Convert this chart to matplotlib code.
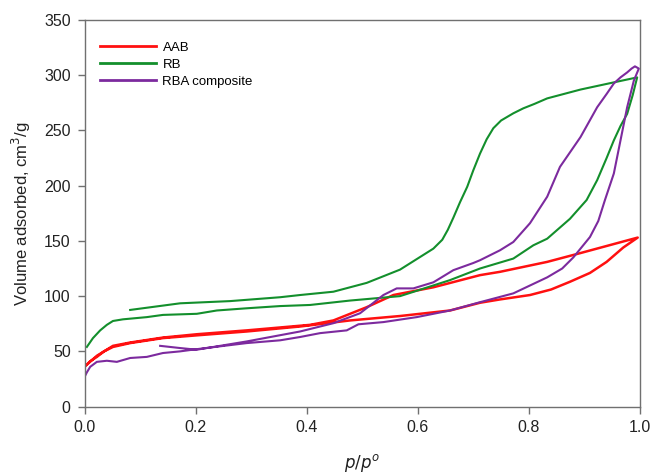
import matplotlib
matplotlib.use("Agg")
import matplotlib.pyplot as plt

plt.rcParams['font.family'] = ['Liberation Sans', 'DejaVu Sans']

# AAB: adsorption branch (0 -> 1) followed by desorption branch (1 -> 0)
aab_x = [0.0, 0.01, 0.022, 0.035, 0.051, 0.082, 0.141, 0.202, 0.292, 0.388, 0.478, 0.568, 0.658,
         0.712, 0.748, 0.802, 0.84, 0.874, 0.91, 0.94, 0.97, 0.996,
         0.893, 0.833, 0.748, 0.712, 0.628, 0.556, 0.508, 0.448, 0.406, 0.292, 0.202,
         0.141, 0.082, 0.051, 0.022, 0.004]
aab_y = [36, 41, 45, 50, 54, 57.5, 62, 64.5, 68, 72.5, 78, 82, 87,
         94, 97, 101, 106, 113, 121, 131, 144, 153,
         139, 131, 122, 119, 108, 101, 90, 78, 74, 69, 65.5,
         62.5, 58, 55, 46, 38]

# RB
rb_x = [0.004, 0.015, 0.028, 0.04, 0.051, 0.069, 0.112, 0.141, 0.202, 0.238, 0.292, 0.352, 0.406,
        0.478, 0.568, 0.658, 0.712, 0.772, 0.808, 0.833, 0.874, 0.904, 0.923,
        0.94, 0.953, 0.965, 0.977, 0.987, 0.995,
        0.953, 0.893, 0.833, 0.81, 0.79, 0.772, 0.75, 0.736, 0.724, 0.712, 0.7,
        0.689, 0.676, 0.664, 0.654, 0.644, 0.628,
        0.568, 0.508, 0.448, 0.388, 0.352, 0.262, 0.172, 0.082]
rb_y = [54, 62, 69, 74, 77.5, 79, 81, 83, 84, 87, 89, 91, 92,
        96, 100, 114.5, 125, 134, 146, 152, 170, 187, 205,
        225, 241, 254, 265, 282, 298,
        293.5, 287, 279, 274, 270, 265.5, 259, 252, 242, 229, 214,
        199, 185, 171, 160, 151, 143,
        124, 112, 104, 101, 99, 95.5, 93.5, 87.5]

# RBA composite
rba_x = [0.0, 0.004, 0.01, 0.022, 0.04, 0.058, 0.082, 0.112, 0.141, 0.172, 0.202, 0.292,
         0.352, 0.388, 0.424, 0.472, 0.493, 0.538, 0.598, 0.658, 0.712, 0.772,
         0.833, 0.86, 0.88, 0.91, 0.925, 0.937, 0.953, 0.965, 0.977, 0.989, 0.998,
         0.991, 0.985, 0.977, 0.965, 0.953, 0.94, 0.923, 0.893, 0.856, 0.833, 0.802, 0.772, 0.748,
         0.712, 0.7, 0.664, 0.628, 0.592, 0.562, 0.538, 0.496, 0.448, 0.388,
         0.292, 0.202, 0.172, 0.136]
rba_y = [27, 31, 36, 40.5, 41.5, 40.5, 44, 45, 48.5, 50, 52, 57.5,
         60, 63, 66.5, 69, 74.5, 76.5, 81, 87, 94.5, 102.5,
         117, 125, 135, 153.5, 168, 187, 211, 241, 271, 295, 306,
         308, 306, 302.5, 298, 292.5, 283, 271, 244, 217, 190, 166, 149, 141.5,
         132.5, 130, 123.5, 112.5, 107, 107, 101, 84.5, 75.5, 68,
         59, 51.5, 53, 55]

fig = plt.figure(figsize=(6.51, 4.75), dpi=100)
ax = fig.add_axes([0.130, 0.144, 0.853, 0.814])

ax.plot(aab_x, aab_y, color='#ff1010', lw=1.8, label='AAB', solid_joinstyle='round')
ax.plot(rb_x, rb_y, color='#138f2c', lw=1.5, label='RB', solid_joinstyle='round')
ax.plot(rba_x, rba_y, color='#7c2a9e', lw=1.5, label='RBA composite', solid_joinstyle='round')

ax.set_xlim(0, 1.0)
ax.set_ylim(0, 350)
ax.set_xticks([0.0, 0.2, 0.4, 0.6, 0.8, 1.0])
ax.set_xticklabels(['0.0', '0.2', '0.4', '0.6', '0.8', '1.0'])
ax.set_yticks(range(0, 351, 50))

for s in ax.spines.values():
    s.set_color('#707070')
    s.set_linewidth(1.0)
ax.tick_params(direction='out', length=5, width=1, color='#707070',
               labelsize=11.5, labelcolor='#222222', pad=5)

ax.set_xlabel(r'$\it{p/p}^{o}$', fontsize=12, color='#222222', labelpad=12)
ax.set_ylabel('Volume adsorbed, cm$^3$/g', fontsize=12, color='#222222', labelpad=8)

leg = ax.legend(loc='upper left', frameon=False, fontsize=9.5, handlelength=4.2,
                handletextpad=0.5, labelspacing=0.35, bbox_to_anchor=(0.0, 0.985),
                borderaxespad=0.8)
for line in leg.get_lines():
    line.set_linewidth(2)

fig.savefig('out.png', dpi=100)
